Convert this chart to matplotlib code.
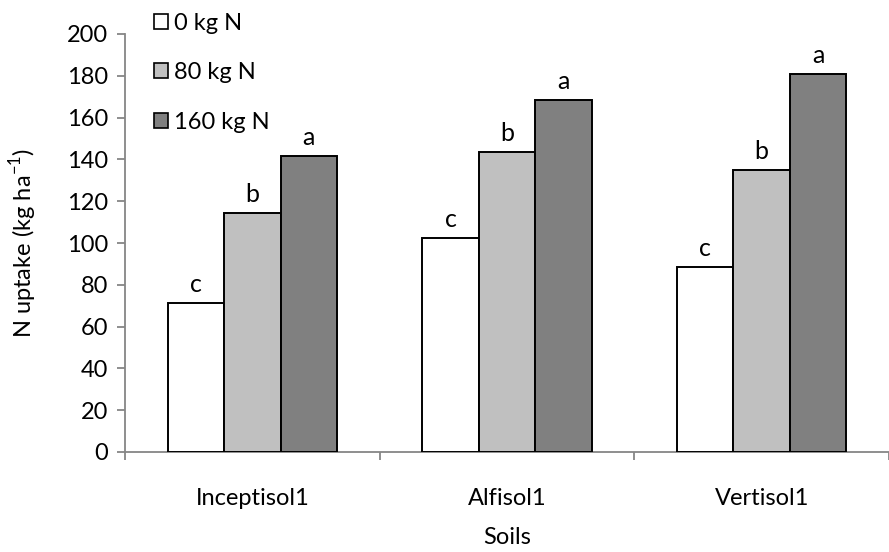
import numpy as np
import matplotlib.pyplot as plt
from matplotlib.patches import Patch

plt.rcParams['font.family'] = ['Lato', 'DejaVu Sans']

soils = ['Inceptisol1', 'Alfisol1', 'Vertisol1']
rates = ['0 kg N', '80 kg N', '160 kg N']
uptake_0 = [71.3, 102.5, 88.4]
uptake_80 = [114.2, 143.4, 134.9]
uptake_160 = [141.6, 168.4, 180.9]
letters_0 = ['c', 'c', 'c']
letters_80 = ['b', 'b', 'b']
letters_160 = ['a', 'a', 'a']

colors = ['#ffffff', '#c0c0c0', '#808080']
axis_grey = '#868686'
fs = 17

fig = plt.figure(figsize=(8.89, 5.52), dpi=100)
ax = fig.add_axes([125 / 889, 1 - 452 / 552, 1 - 125 / 889, (452 - 34) / 552])

x = np.arange(len(soils))
w = 0.222
series = [uptake_0, uptake_80, uptake_160]
letters = [letters_0, letters_80, letters_160]
for i, (vals, lab) in enumerate(zip(series, letters)):
    pos = x + (i - 1) * w
    ax.bar(pos, vals, width=w, color=colors[i], edgecolor='black', linewidth=1.4, zorder=3)
    for p, v, t in zip(pos, vals, lab):
        ax.annotate(t, (p, v), xytext=(0, 5), textcoords='offset points',
                    ha='center', va='bottom', fontsize=fs + 1)

ax.set_ylim(0, 200)
ax.set_yticks(np.arange(0, 201, 20))
ax.set_xlim(-0.5, (889 - 125) / 256.5 - 0.5)
ax.set_xticks(x)
ax.set_xticklabels(soils)
ax.set_xticks(np.arange(-0.5, 3.0, 1.0), minor=True)
ax.tick_params(axis='x', which='major', length=0, pad=26, labelsize=fs)
ax.tick_params(axis='x', which='minor', length=6, width=1.3, color=axis_grey, direction='out')
ax.tick_params(axis='y', length=6, width=1.3, color=axis_grey, direction='out', labelsize=fs, pad=6)

for s in ['top', 'right']:
    ax.spines[s].set_visible(False)
for s in ['left', 'bottom']:
    ax.spines[s].set_color(axis_grey)
    ax.spines[s].set_linewidth(1.3)

ax.set_ylabel('N uptake (kg ha$^{\\mathregular{-1}}$)', fontsize=fs, labelpad=20)
ax.set_xlabel('Soils', fontsize=fs, labelpad=13)

handles = [Patch(facecolor=c, edgecolor='black', linewidth=1.2) for c in colors]
ax.legend(handles, rates, loc='upper left', bbox_to_anchor=(141 / 889, 1.0),
          bbox_transform=fig.transFigure, frameon=False, fontsize=fs,
          handlelength=0.6, handleheight=0.6, handletextpad=0.25, labelspacing=1.2,
          borderaxespad=0.15)

fig.savefig('out.png', dpi=100)
